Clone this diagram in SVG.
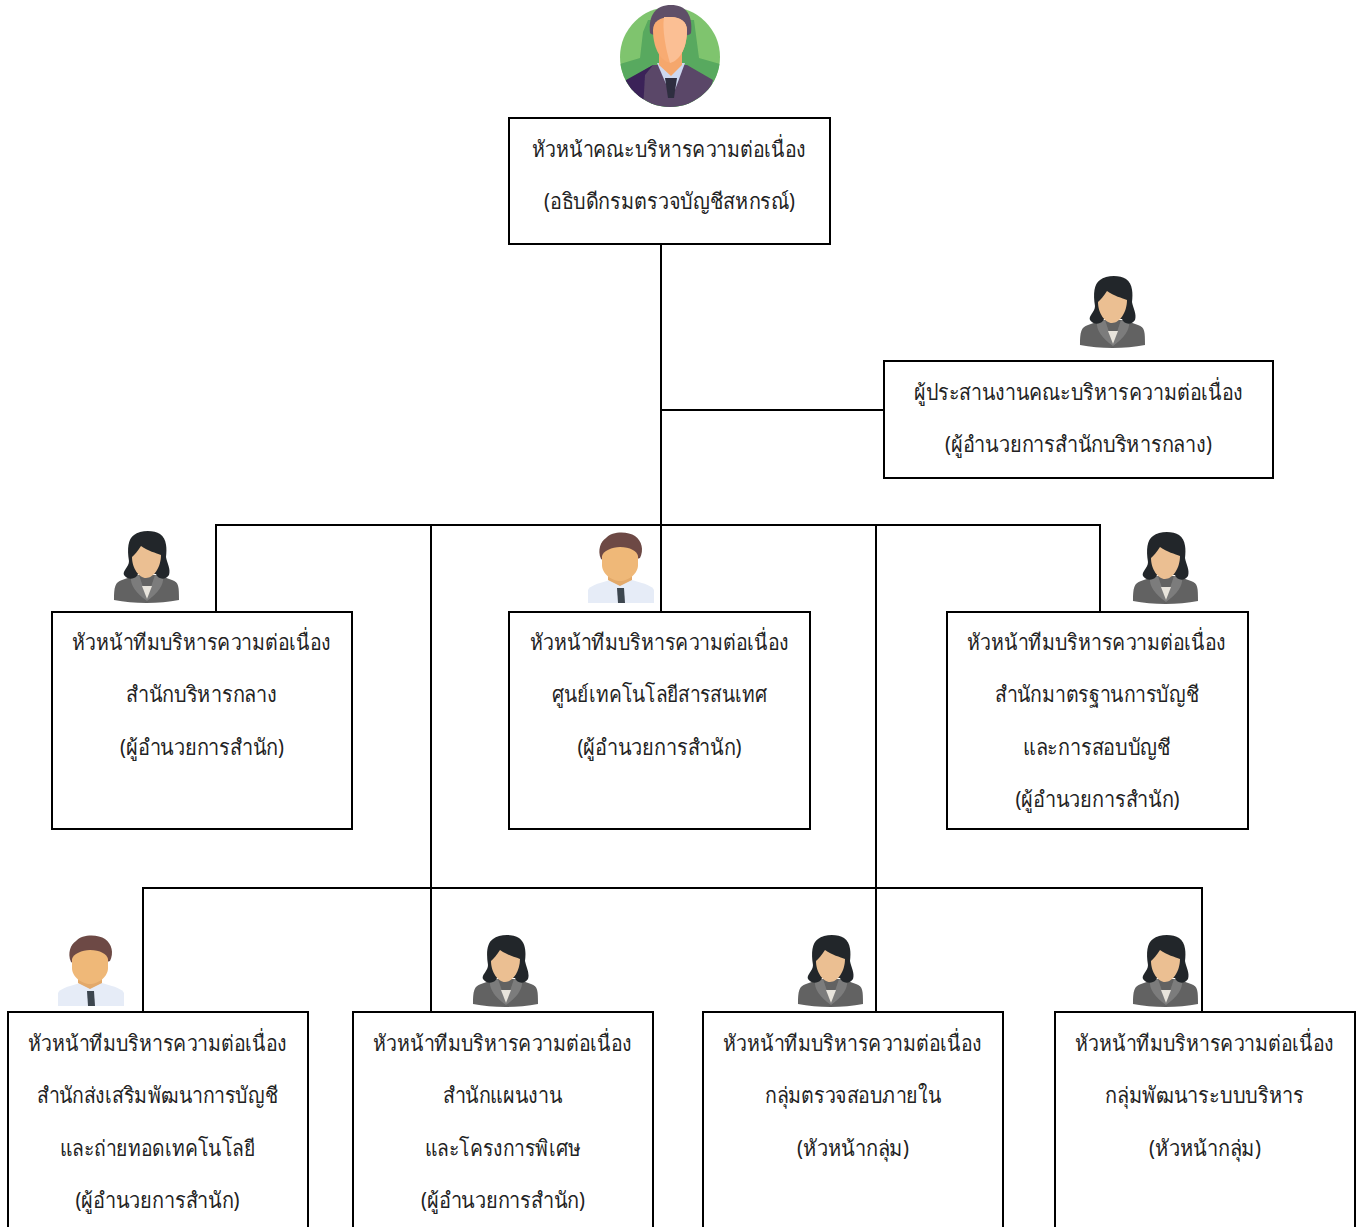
<svg xmlns="http://www.w3.org/2000/svg" lang="th" width="1363" height="1227" viewBox="0 0 1363 1227">
<style>
.box{fill:#fff;stroke:#000;stroke-width:2}
.con{fill:none;stroke:#000;stroke-width:2}
text{font-family:"Noto Sans","DejaVu Sans",sans-serif;font-size:22px;fill:#222;text-anchor:middle}
</style>
<defs>
<filter id="soft" x="-5%" y="-5%" width="110%" height="110%"><feGaussianBlur stdDeviation="0.45"/></filter>
<clipPath id="bossClip"><circle cx="670" cy="57" r="50"/></clipPath>
<symbol id="woman" width="66" height="74" viewBox="0 0 66 74" overflow="visible">
<g filter="url(#soft)">
<path d="M0 69C0 56 1 51 8 49L22 44H44L58 49C65 51 65 56 65 69C45 73 20 73 0 69Z" fill="#626262"/>
<path d="M17 46L25 44L33 68L41 44L49 46C50 54 44 62 33 70C22 62 16 54 17 46Z" fill="#7c7c7c"/>
<path d="M28 55H38L33 68Z" fill="#e8e4dc"/>
<path d="M15 30C13 18 14 8 20 4C26 -1 40 -1 46 3C53 8 53 18 52 26C53 32 57 38 55 44C52 49 44 49 42 43H24C22 49 13 49 10 44C8 40 15 36 15 30Z" fill="#23282b"/>
<path d="M18 26C20 24 24 20 27 15C34 20 42 22 47 24C47 36 40 47 32 47C25 47 18 37 18 26Z" fill="#ebbf92"/>
</g>
</symbol>
<symbol id="man" width="66" height="72" viewBox="0 0 66 72" overflow="visible">
<g filter="url(#soft)">
<path d="M0 71V58C2 54 8 52 22 48H44C58 52 64 54 66 58V71Z" fill="#e6ecf7"/>
<path d="M20 42H44V48L32 54L20 48Z" fill="#e3a96a"/>
<path d="M29 56H36L37 71H30Z" fill="#3e4650"/>
<path d="M13 27C9 18 13 9 18 6C24 -1 40 -1 47 4C54 9 56 18 52 26C48 28 18 30 13 27Z" fill="#6d4a45"/>
<path d="M14 24C15 19 24 15 32 15C42 15 49 19 50 24V33C50 42 40 49 32 49C24 49 14 42 14 33Z" fill="#efb878"/>
</g>
</symbol>
</defs>
<rect width="1363" height="1227" fill="#fff"/>
<g id="connectors" class="con">
<path d="M661 244V612M661 410H884M216 612V525H1100V612M431 525V1012M876 525V1012M143 1012V888H1202V1012"/>
</g>
<g id="boss-avatar" filter="url(#soft)">
<g clip-path="url(#bossClip)">
<rect x="620" y="5" width="100" height="104" fill="#7fc46e"/>
<path d="M620 64L640 58L643 32L648 20H694L699 58L720 64V110H620Z" fill="#58a95e"/>
<path d="M628 80L653 65H687L713 80L705 110H635Z" fill="#5a4668"/>
<path d="M626 80L653 65L645 75L643 110H620Z" fill="#3a2458"/>
<path d="M657 63H685L672 98Z" fill="#cdd8f0"/>
<path d="M665 78H677L674 98H668Z" fill="#2f2d40"/>
</g>
<path d="M659 52H682V65L671 76L659 65Z" fill="#f5a76c"/>
<path d="M650 33C648 15 656 5 671 5C686 5 693 15 691 33C689 38 655 38 650 33Z" fill="#5f5068"/>
<path d="M653 30C653 22 660 17 670 17C680 17 687 22 687 30C687 46 681 60 670 63C659 60 653 46 653 30Z" fill="#f8ab72"/>
<path d="M664 17H672C680 17 687 22 687 30C687 46 681 60 670 63C666 50 662 30 664 17Z" fill="#fbbf94"/>
</g>
<g id="n-head"><rect class="box" x="509" y="118" width="321" height="126"/><text x="669" y="157" textLength="274" lengthAdjust="spacingAndGlyphs">หัวหน้าคณะบริหารความต่อเนื่อง</text><text x="669.5" y="209" textLength="251" lengthAdjust="spacingAndGlyphs">(อธิบดีกรมตรวจบัญชีสหกรณ์)</text></g>
<g id="n-coord"><use href="#woman" x="1080" y="276"/><rect class="box" x="884" y="361" width="389" height="117"/><text x="1078.5" y="400" textLength="329" lengthAdjust="spacingAndGlyphs">ผู้ประสานงานคณะบริหารความต่อเนื่อง</text><text x="1078.5" y="452" textLength="267" lengthAdjust="spacingAndGlyphs">(ผู้อำนวยการสำนักบริหารกลาง)</text></g>
<g id="n-admin"><use href="#woman" x="114" y="531"/><rect class="box" x="52" y="612" width="300" height="217"/><text x="201.5" y="650" textLength="259" lengthAdjust="spacingAndGlyphs">หัวหน้าทีมบริหารความต่อเนื่อง</text><text x="201.5" y="702" textLength="151" lengthAdjust="spacingAndGlyphs">สำนักบริหารกลาง</text><text x="202" y="755" textLength="164" lengthAdjust="spacingAndGlyphs">(ผู้อำนวยการสำนัก)</text></g>
<g id="n-ict"><use href="#man" x="588" y="532"/><rect class="box" x="509" y="612" width="301" height="217"/><text x="659.5" y="650" textLength="259" lengthAdjust="spacingAndGlyphs">หัวหน้าทีมบริหารความต่อเนื่อง</text><text x="659.5" y="702" textLength="215" lengthAdjust="spacingAndGlyphs">ศูนย์เทคโนโลยีสารสนเทศ</text><text x="659.5" y="755" textLength="164" lengthAdjust="spacingAndGlyphs">(ผู้อำนวยการสำนัก)</text></g>
<g id="n-std"><use href="#woman" x="1133" y="532"/><rect class="box" x="947" y="612" width="301" height="217"/><text x="1096.5" y="650" textLength="259" lengthAdjust="spacingAndGlyphs">หัวหน้าทีมบริหารความต่อเนื่อง</text><text x="1097" y="702" textLength="204" lengthAdjust="spacingAndGlyphs">สำนักมาตรฐานการบัญชี</text><text x="1097" y="755" textLength="148" lengthAdjust="spacingAndGlyphs">และการสอบบัญชี</text><text x="1097.5" y="807" textLength="164" lengthAdjust="spacingAndGlyphs">(ผู้อำนวยการสำนัก)</text></g>
<g id="n-promo"><use href="#man" x="58" y="935"/><rect class="box" x="8" y="1012" width="300" height="230"/><text x="157.5" y="1051" textLength="259" lengthAdjust="spacingAndGlyphs">หัวหน้าทีมบริหารความต่อเนื่อง</text><text x="157.5" y="1103" textLength="241" lengthAdjust="spacingAndGlyphs">สำนักส่งเสริมพัฒนาการบัญชี</text><text x="157.5" y="1156" textLength="195" lengthAdjust="spacingAndGlyphs">และถ่ายทอดเทคโนโลยี</text><text x="157.5" y="1208" textLength="164" lengthAdjust="spacingAndGlyphs">(ผู้อำนวยการสำนัก)</text></g>
<g id="n-plan"><use href="#woman" x="473" y="935"/><rect class="box" x="353" y="1012" width="300" height="230"/><text x="502.5" y="1051" textLength="259" lengthAdjust="spacingAndGlyphs">หัวหน้าทีมบริหารความต่อเนื่อง</text><text x="502.5" y="1103" textLength="119" lengthAdjust="spacingAndGlyphs">สำนักแผนงาน</text><text x="503" y="1156" textLength="156" lengthAdjust="spacingAndGlyphs">และโครงการพิเศษ</text><text x="503" y="1208" textLength="164" lengthAdjust="spacingAndGlyphs">(ผู้อำนวยการสำนัก)</text></g>
<g id="n-audit"><use href="#woman" x="798" y="935"/><rect class="box" x="703" y="1012" width="300" height="230"/><text x="852.5" y="1051" textLength="259" lengthAdjust="spacingAndGlyphs">หัวหน้าทีมบริหารความต่อเนื่อง</text><text x="853" y="1103" textLength="176" lengthAdjust="spacingAndGlyphs">กลุ่มตรวจสอบภายใน</text><text x="853" y="1156" textLength="112" lengthAdjust="spacingAndGlyphs">(หัวหน้ากลุ่ม)</text></g>
<g id="n-dev"><use href="#woman" x="1133" y="935"/><rect class="box" x="1055" y="1012" width="300" height="230"/><text x="1204.5" y="1051" textLength="259" lengthAdjust="spacingAndGlyphs">หัวหน้าทีมบริหารความต่อเนื่อง</text><text x="1204.5" y="1103" textLength="199" lengthAdjust="spacingAndGlyphs">กลุ่มพัฒนาระบบบริหาร</text><text x="1205" y="1156" textLength="112" lengthAdjust="spacingAndGlyphs">(หัวหน้ากลุ่ม)</text></g>
</svg>
